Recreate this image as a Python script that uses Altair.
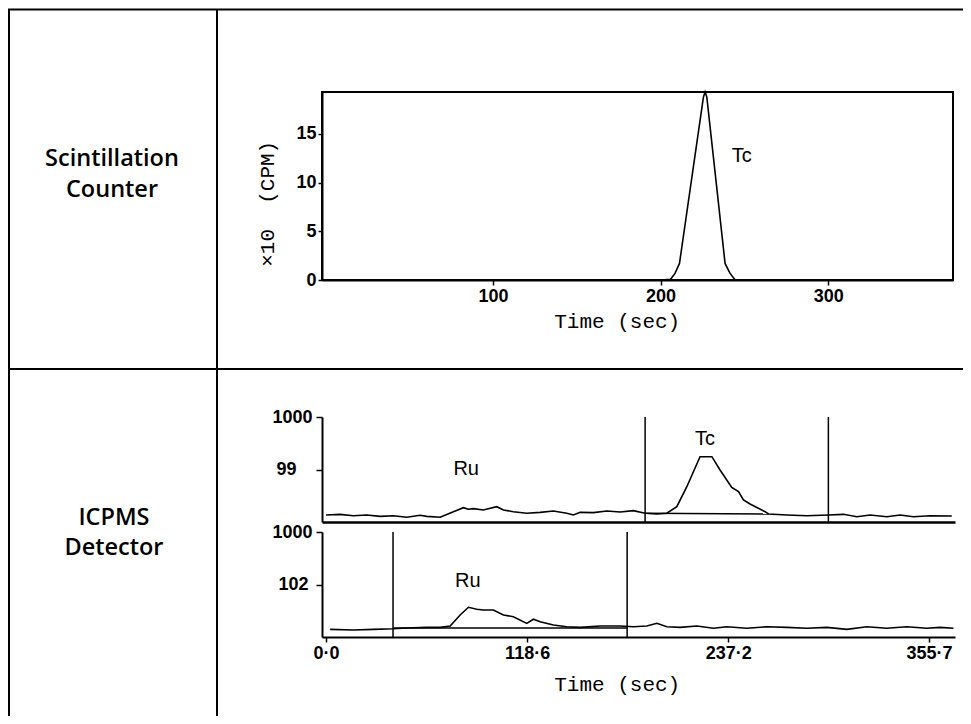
import altair as alt
import pandas as pd

# ---------------- data ----------------
# Scintillation counter (Tc), x10 CPM vs time (sec)
sc_time = [0, 100, 200, 206, 208.7, 211.3, 225.6, 226.6, 227.6, 238.5, 241.4, 244.5, 300, 373]
sc_cpm = [0, 0, 0, 0.07, 0.7, 1.7, 18.8, 19.3, 18.8, 1.7, 0.7, 0, 0, 0]

# ICPMS m/z 99 trace
t99 = [0, 8.3, 16.1, 24.0, 31.9, 39.7, 47.6, 55.5, 59.4, 67.3, 75.1, 81.0, 84.0, 86.9, 92.8,
       100.7, 104.6, 110.5, 118.4, 126.3, 134.1, 142.0, 145.9, 149.9, 157.7, 165.6, 173.5, 181.3,
       188.2, 195.1, 201.0, 206.9, 212.8, 220.6, 227.6, 232.4, 239.3, 243.3, 246.2, 250.1, 259.0,
       261.0, 271.8, 283.6, 296.3, 305.2, 313.1, 320.9, 330.8, 338.6, 346.5, 356.3, 369.1]
v99 = [67, 73, 60, 67, 54, 60, 45, 64, 54, 45, 98, 136, 121, 127, 114,
       146, 114, 98, 83, 92, 105, 83, 67, 92, 89, 105, 95, 108,
       83, 76, 83, 146, 336, 622, 622, 495, 330, 289, 210, 171, 98,
       76, 67, 60, 67, 73, 50, 67, 50, 67, 50, 60, 57]
base99_t = [188.2, 261.0]
base99_v = [83, 76]
marks99 = [188.2, 296.3]

# ICPMS m/z 102 trace
t102 = [2.4, 16.1, 27.9, 39.7, 47.6, 59.4, 67.3, 73.2, 79.1, 84.0, 88.9, 92.8, 98.7, 104.6,
        110.5, 118.4, 122.3, 126.3, 134.1, 142.0, 149.9, 161.7, 173.5, 181.3, 189.2, 195.1,
        201.0, 208.8, 218.7, 228.5, 236.4, 248.2, 260.0, 271.8, 283.6, 295.4, 307.2, 319.0,
        330.8, 342.6, 354.4, 362.2, 370.1]
v102 = [73, 67, 73, 79, 86, 92, 92, 105, 210, 283, 264, 257, 257, 210,
        193, 130, 169, 146, 114, 98, 92, 105, 105, 98, 105, 130,
        98, 92, 105, 83, 98, 83, 98, 92, 83, 92, 73, 98,
        83, 98, 83, 92, 83]
base102_t = [39.7, 177.6]
base102_v = [86, 86]
marks102 = [39.5, 177.6]

# peak labels (data coordinates)
sc_label = {"t": [242.5], "v": [12.16], "label": ["Tc"]}
lab99 = {"t": [75.1, 217.7], "v": [448, 733], "label": ["Ru", "Tc"]}
lab102 = {"t": [76.1], "v": [479], "label": ["Ru"]}

top_xticks = [100, 200, 300]
top_yticks = [0, 5, 10, 15]
ms_xticks = [0, 118.6, 237.2, 355.7]

# ---------------- styling ----------------
W, H = 955, 708
SANS = "Liberation Sans, Arial, sans-serif"
MONO = "Liberation Mono, DejaVu Sans Mono, monospace"
CELL = "Open Sans, Noto Sans, sans-serif"

X_TOP = alt.Scale(domain=[-2, 374.5], range=[314, 945], nice=False, zero=False)
Y_TOP = alt.Scale(domain=[0, 19.3], range=[272, 84], nice=False, zero=False)
X_MS = alt.Scale(domain=[-2.4, 371], range=[314, 947], nice=False, zero=False)
Y_99 = alt.Scale(domain=[0, 1000], range=[514, 409], nice=False, zero=False)
Y_102 = alt.Scale(domain=[0, 1000], range=[629, 524], nice=False, zero=False)

LINE = dict(color="black", strokeWidth=1.6)
TITLE = dict(titleFont=MONO, titleFontSize=21, titleFontWeight="normal")
PEAK = dict(align="left", baseline="alphabetic", font=SANS, fontSize=20, color="black")

# ---------------- scintillation panel ----------------
sc_df = pd.DataFrame({"t": sc_time, "v": sc_cpm})
top_line = alt.Chart(sc_df).mark_line(**LINE).encode(
    x=alt.X("t:Q", scale=X_TOP, axis=alt.Axis(
        orient="bottom", offset=272 - H, values=top_xticks, tickSize=5, labelPadding=2,
        title="Time (sec)", titleX=608.7, titleY=47, titleBaseline="alphabetic",
        titleAlign="center", **TITLE)),
    y=alt.Y("v:Q", scale=Y_TOP, axis=alt.Axis(
        orient="left", offset=-314, values=top_yticks, tickSize=4, labelPadding=2,
        title="×10\u00a0 (CPM)", titleAngle=270, titleX=-55, titleY=195.3,
        titleBaseline="middle", titleAlign="center", **TITLE)),
)
top_frame = alt.Chart(pd.DataFrame({"x0": [X_TOP.domain[0]], "x1": [X_TOP.domain[1]],
                                    "y0": [Y_TOP.domain[0]], "y1": [Y_TOP.domain[1]]})).mark_rect(
    fillOpacity=0, stroke="black", strokeWidth=2).encode(
    x=alt.X("x0:Q", scale=X_TOP, axis=None), x2="x1:Q",
    y=alt.Y("y0:Q", scale=Y_TOP, axis=None), y2="y1:Q")
top_text = alt.Chart(pd.DataFrame(sc_label)).mark_text(**PEAK).encode(
    x=alt.X("t:Q", scale=X_TOP, axis=None), y=alt.Y("v:Q", scale=Y_TOP, axis=None), text="label:N")

# ---------------- ICPMS m/z 99 ----------------
df99 = pd.DataFrame({"t": t99, "v": v99})
line99 = alt.Chart(df99).mark_line(**LINE).encode(
    x=alt.X("t:Q", scale=X_MS, axis=alt.Axis(orient="bottom", offset=514 - H, labels=False,
                                             ticks=False, title="", domainWidth=2.5)),
    y=alt.Y("v:Q", scale=Y_99, axis=alt.Axis(
        orient="left", offset=-314, values=[500, 1000], tickSize=6,
        labelPadding={"condition": {"test": "datum.value == 1000", "value": 4}, "value": 20},
        labelExpr="datum.value == 1000 ? '1000' : '99'",
        title="")),
)
base99 = alt.Chart(pd.DataFrame({"t": base99_t, "v": base99_v})).mark_line(**LINE).encode(
    x=alt.X("t:Q", scale=X_MS, axis=None), y=alt.Y("v:Q", scale=Y_99, axis=None))
rule99 = alt.Chart(pd.DataFrame({"t": marks99, "lo": [0, 0], "hi": [1000, 1000]})).mark_rule(
    color="black", strokeWidth=1.5).encode(
    x=alt.X("t:Q", scale=X_MS, axis=None), y=alt.Y("lo:Q", scale=Y_99, axis=None), y2="hi:Q")
text99 = alt.Chart(pd.DataFrame(lab99)).mark_text(**PEAK).encode(
    x=alt.X("t:Q", scale=X_MS, axis=None), y=alt.Y("v:Q", scale=Y_99, axis=None), text="label:N")

# ---------------- ICPMS m/z 102 ----------------
df102 = pd.DataFrame({"t": t102, "v": v102})
line102 = alt.Chart(df102).mark_line(**LINE).encode(
    x=alt.X("t:Q", scale=X_MS, axis=alt.Axis(
        orient="bottom", offset=629 - H, values=ms_xticks, tickSize=5, labelPadding=2,
        labelExpr="replace(format(datum.value, '.1f'), '.', '·')",
        title="Time (sec)", titleX=608.7, titleY=53, titleBaseline="alphabetic",
        titleAlign="center", **TITLE)),
    y=alt.Y("v:Q", scale=Y_102, axis=alt.Axis(
        orient="left", offset=-314, values=[500, 1000], tickSize=6,
        labelPadding={"condition": {"test": "datum.value == 1000", "value": 4}, "value": 8},
        labelExpr="datum.value == 1000 ? '1000' : '102'",
        title="")),
)
base102 = alt.Chart(pd.DataFrame({"t": base102_t, "v": base102_v})).mark_line(**LINE).encode(
    x=alt.X("t:Q", scale=X_MS, axis=None), y=alt.Y("v:Q", scale=Y_102, axis=None))
rule102 = alt.Chart(pd.DataFrame({"t": marks102, "lo": [0, 0], "hi": [1000, 1000]})).mark_rule(
    color="black", strokeWidth=1.5).encode(
    x=alt.X("t:Q", scale=X_MS, axis=None), y=alt.Y("lo:Q", scale=Y_102, axis=None), y2="hi:Q")
text102 = alt.Chart(pd.DataFrame(lab102)).mark_text(**PEAK).encode(
    x=alt.X("t:Q", scale=X_MS, axis=None), y=alt.Y("v:Q", scale=Y_102, axis=None), text="label:N")

# ---------------- table frame and row labels ----------------
RULE = dict(color="black", strokeWidth=2)
frame = [
    alt.Chart().mark_rule(**RULE).encode(x=alt.value(0), x2=alt.value(W), y=alt.value(1.5)),
    alt.Chart().mark_rule(**RULE).encode(x=alt.value(1), y=alt.value(1.5), y2=alt.value(H)),
    alt.Chart().mark_rule(**RULE).encode(x=alt.value(209), y=alt.value(1.5), y2=alt.value(H)),
    alt.Chart().mark_rule(**RULE).encode(x=alt.value(0), x2=alt.value(W), y=alt.value(361)),
]
CELLTXT = dict(font=CELL, fontSize=23.5, fontWeight=600, align="center", baseline="alphabetic",
               color="black")
row_labels = [
    alt.Chart().mark_text(text="Scintillation", **CELLTXT).encode(x=alt.value(104), y=alt.value(157.7)),
    alt.Chart().mark_text(text="Counter", **CELLTXT).encode(x=alt.value(104), y=alt.value(188.7)),
    alt.Chart().mark_text(text="ICPMS", **CELLTXT).encode(x=alt.value(106), y=alt.value(517)),
    alt.Chart().mark_text(text="Detector", **CELLTXT).encode(x=alt.value(106), y=alt.value(547)),
]

chart = alt.layer(
    *frame, *row_labels,
    top_line, top_frame, top_text,
    line99, base99, rule99, text99,
    line102, base102, rule102, text102,
).resolve_scale(x="independent", y="independent").resolve_axis(
    x="independent", y="independent").properties(
    width=W, height=H, autosize=alt.AutoSizeParams(type="none"), padding=0,
    background="white").configure_view(strokeWidth=0).configure_axis(
    grid=False, domainColor="black", domainWidth=2, tickColor="black", tickWidth=1.5,
    labelColor="black", labelFont=SANS, labelFontSize=18, labelFontWeight="bold",
    titleColor="black")

chart.save("out.html", embed_options={"renderer": "svg", "actions": False})
